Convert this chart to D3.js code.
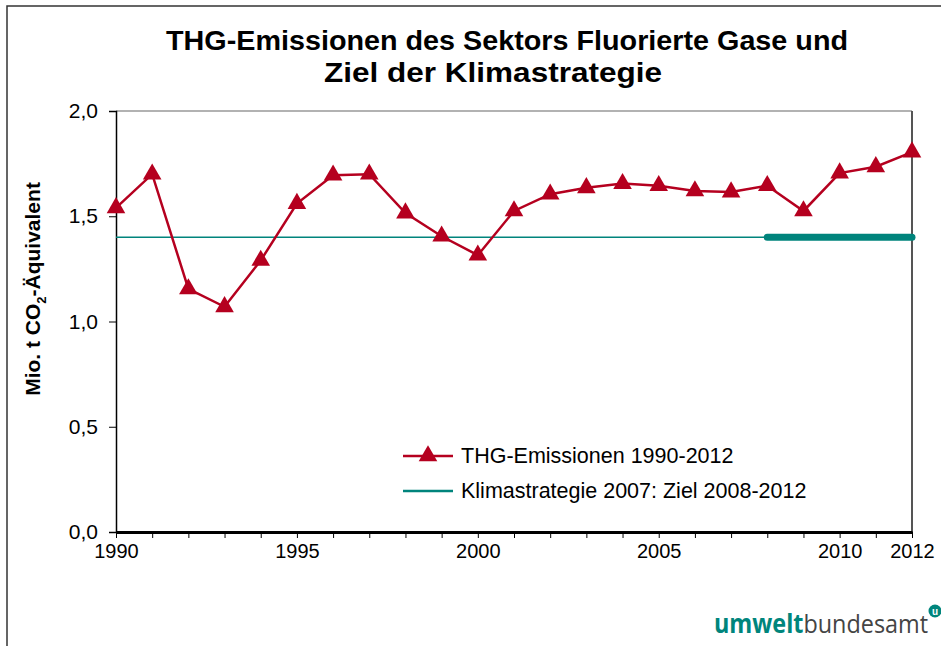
<!DOCTYPE html>
<html>
<head>
<meta charset="utf-8">
<script src="https://cdn.jsdelivr.net/npm/d3@7"></script>
<style>
    body { margin: 0; background: #fff; }
    svg { display: block; font-family: "Liberation Sans", Arial, sans-serif; }
</style>
</head>
<body>
<div id="chart"></div>
<script>
// data
var years = [1990, 1991, 1992, 1993, 1994, 1995, 1996, 1997, 1998, 1999, 2000, 2001,
    2002, 2003, 2004, 2005, 2006, 2007, 2008, 2009, 2010, 2011, 2012];
var emissions = [1.54, 1.70, 1.155, 1.07, 1.29, 1.56, 1.695, 1.70, 1.515, 1.405, 1.315, 1.525,
    1.605, 1.635, 1.655, 1.645, 1.62, 1.615, 1.645, 1.525, 1.705, 1.735, 1.805];
var targetValue = 1.4;
var targetFrom = 2008, targetTo = 2012;
var yTicks = [0, 0.5, 1.0, 1.5, 2.0];
var xTicks = [1990, 1995, 2000, 2005, 2010, 2012];
var legendLabels = ["THG-Emissionen 1990-2012", "Klimastrategie 2007: Ziel 2008-2012"];

var red = "#b5001f", teal = "#00847c";

var W = 941, H = 646;
var margin = {top: 111, right: 29, bottom: 114, left: 116},
    width = W - margin.left - margin.right,
    height = H - margin.top - margin.bottom;

var svg = d3.select("#chart").append("svg")
    .attr("width", W)
    .attr("height", H);

// outer frame (runs off the right and bottom edge)
svg.append("path")
    .attr("d", "M7,646V6H941")
    .attr("fill", "none")
    .attr("stroke", "#333")
    .attr("stroke-width", 1.5);

svg.append("text")
    .attr("x", 507)
    .attr("y", 50)
    .attr("text-anchor", "middle")
    .attr("textLength", 682)
    .attr("lengthAdjust", "spacingAndGlyphs")
    .style("font-size", "28px")
    .style("font-weight", "bold")
    .text("THG-Emissionen des Sektors Fluorierte Gase und");
svg.append("text")
    .attr("x", 493)
    .attr("y", 82)
    .attr("text-anchor", "middle")
    .attr("textLength", 338)
    .attr("lengthAdjust", "spacingAndGlyphs")
    .style("font-size", "28px")
    .style("font-weight", "bold")
    .text("Ziel der Klimastrategie");

var g = svg.append("g")
    .attr("transform", "translate(" + margin.left + "," + margin.top + ")");

var x = d3.scaleLinear().domain([1990, 2012]).range([0, width]);
var y = d3.scaleLinear().domain([0, 2]).range([height, 0]);

// plot frame top / right
g.append("line").attr("x1", 0).attr("x2", width).attr("y1", 0).attr("y2", 0)
    .attr("stroke", "#999").attr("stroke-width", 1.5);
g.append("line").attr("x1", width).attr("x2", width).attr("y1", 0).attr("y2", height)
    .attr("stroke", "#555").attr("stroke-width", 2);

var yAxis = d3.axisLeft(y)
    .tickValues(yTicks)
    .tickSize(7)
    .tickPadding(11)
    .tickFormat(function(d) { return d3.format(".1f")(d).replace(".", ","); });

var yg = g.append("g").attr("class", "y d3-axis").call(yAxis);
yg.select(".domain").attr("stroke", "#000").attr("stroke-width", 1.5);
yg.selectAll(".tick line").attr("stroke", "#000");
yg.selectAll(".tick text").style("font-size", "21px").style("font-family", "Liberation Sans, Arial, sans-serif").attr("fill", "#000");

var xAxis = d3.axisBottom(x)
    .tickValues(years)
    .tickSize(6)
    .tickSizeOuter(0)
    .tickPadding(6)
    .tickFormat(function(d) { return xTicks.indexOf(d) >= 0 ? d : ""; });

var xg = g.append("g").attr("class", "x d3-axis")
    .attr("transform", "translate(0," + height + ")")
    .call(xAxis);
xg.select(".domain").attr("stroke", "#000").attr("stroke-width", 3);
xg.selectAll(".tick line").attr("stroke", "#000");
xg.selectAll(".tick text").style("font-size", "20px").style("font-family", "Liberation Sans, Arial, sans-serif").attr("fill", "#000");

// y axis title
var yt = svg.append("text")
    .attr("transform", "translate(40,289) rotate(-90)")
    .attr("text-anchor", "middle")
    .style("font-size", "21px")
    .style("font-weight", "bold");
yt.append("tspan").text("Mio. t CO");
yt.append("tspan").attr("dy", 6).style("font-size", "13px").text("2");
yt.append("tspan").attr("dy", -6).text("-Äquivalent");

// target line: thin over the whole period, thick for the target period
g.append("line")
    .attr("x1", x(1990)).attr("x2", x(2012))
    .attr("y1", y(targetValue)).attr("y2", y(targetValue))
    .attr("stroke", teal).attr("stroke-width", 1.5);
g.append("line")
    .attr("x1", x(targetFrom)).attr("x2", x(targetTo))
    .attr("y1", y(targetValue)).attr("y2", y(targetValue))
    .attr("stroke", teal).attr("stroke-width", 7)
    .attr("stroke-linecap", "round");

var items = years.map(function(d, i) { return {year: d, v: emissions[i]}; });

var line = d3.line()
    .x(function(d) { return x(d.year); })
    .y(function(d) { return y(d.v); });

g.append("path")
    .attr("d", line(items))
    .attr("fill", "none")
    .attr("stroke", red)
    .attr("stroke-width", 2.5);

var tri = d3.symbol().type(d3.symbolTriangle).size(150);

g.selectAll(".marker")
    .data(items)
    .enter().append("path")
    .attr("class", "marker")
    .attr("transform", function(d) { return "translate(" + x(d.year) + "," + y(d.v) + ")"; })
    .attr("d", tri)
    .attr("fill", red);

// legend
var legend = svg.append("g").attr("transform", "translate(403,456)");
legend.append("line").attr("x1", 0).attr("x2", 50).attr("stroke", red).attr("stroke-width", 2.5);
legend.append("path").attr("transform", "translate(25,0)").attr("d", tri).attr("fill", red);
legend.append("text").attr("x", 58).attr("y", 7).style("font-size", "21.5px").text(legendLabels[0]);
legend.append("line").attr("x1", 0).attr("x2", 50).attr("y1", 35).attr("y2", 35)
    .attr("stroke", teal).attr("stroke-width", 2.5);
legend.append("text").attr("x", 58).attr("y", 42).style("font-size", "21.5px").text(legendLabels[1]);

// logo
var logo = svg.append("text")
    .attr("transform", "translate(714,633) scale(0.9,1)")
    .style("font-family", "'Open Sans', 'DejaVu Sans', sans-serif")
    .style("font-size", "26px");
logo.append("tspan").attr("fill", "#00857c").style("font-weight", "bold").text("umwelt");
logo.append("tspan").attr("fill", "#444").text("bundesamt");
svg.append("circle").attr("cx", 935).attr("cy", 611).attr("r", 6.5).attr("fill", "#00857c");
svg.append("text").attr("x", 935).attr("y", 614.5).attr("text-anchor", "middle")
    .style("font-size", "10px").style("font-weight", "bold").attr("fill", "#fff").text("u");
</script>
</body>
</html>
